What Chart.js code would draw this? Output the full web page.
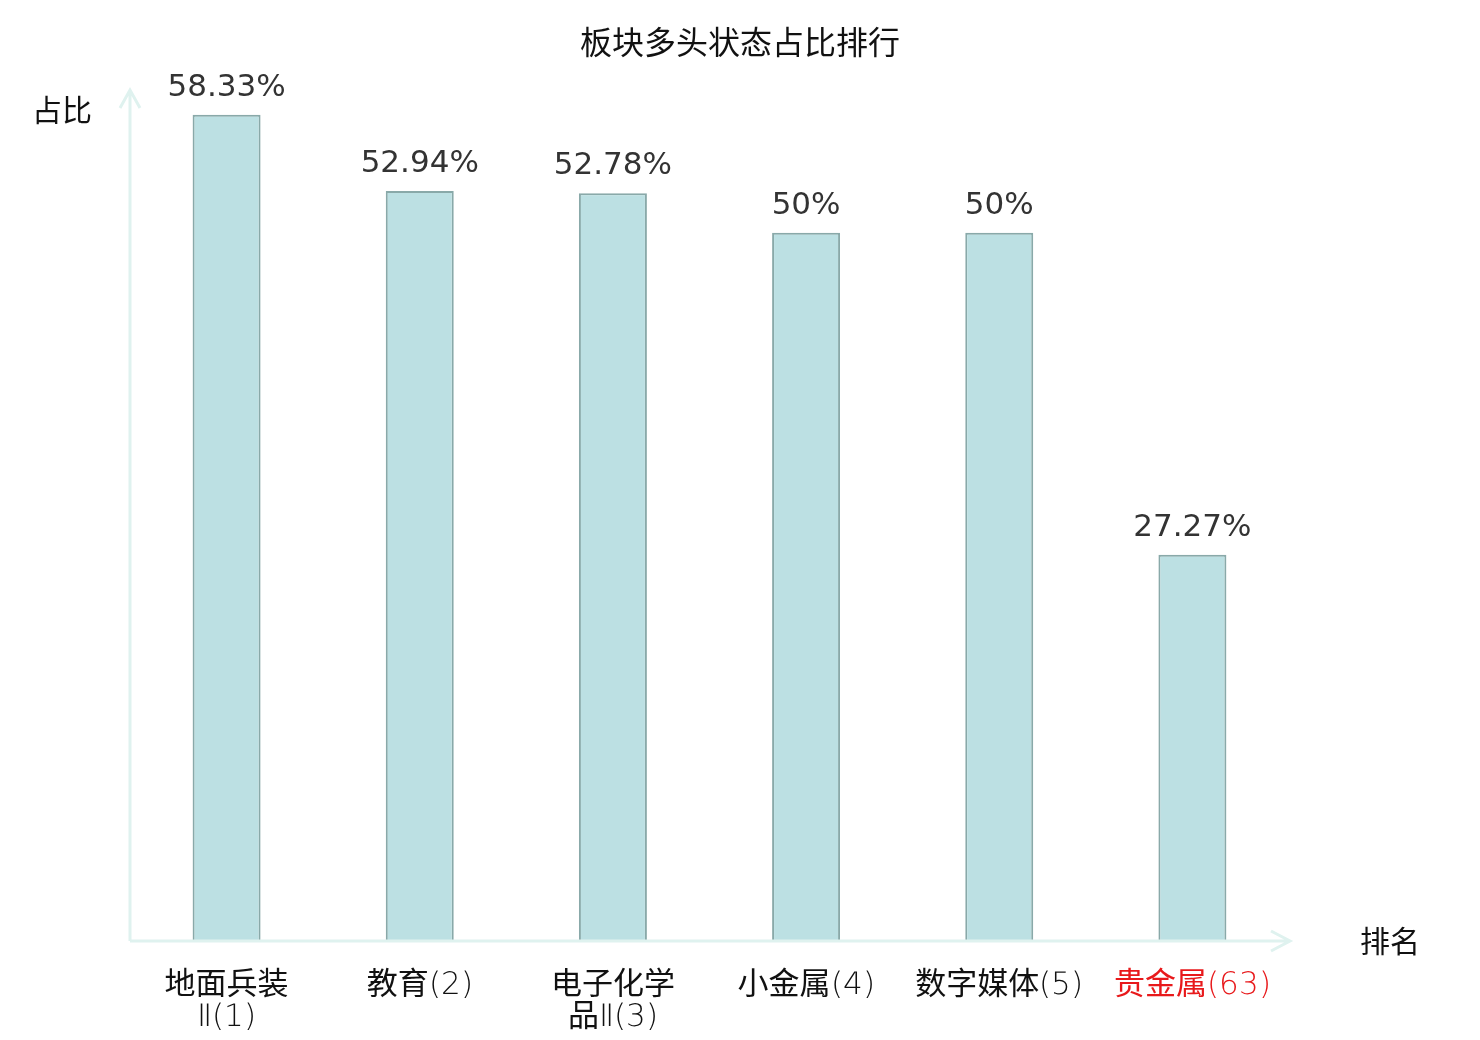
<!DOCTYPE html>
<html>
<head>
<meta charset="utf-8">
<script src="https://cdn.jsdelivr.net/npm/chart.js@4.4.0/dist/chart.umd.min.js"></script>
<style>
html,body{margin:0;padding:0;background:#fff;}
#wrap{width:1480px;height:1040px;position:relative;}
@font-face{
  font-family:"TickLatin";
  src: local("DejaVu Sans ExtraLight"), local("DejaVuSans-ExtraLight");
  unicode-range: U+0000-024F, U+2160-2188;
}
</style>
</head>
<body>
<div id="wrap"><canvas id="c" width="1480" height="1040"></canvas></div>
<script>
const categories = [
  ["地面兵装", "Ⅱ(1)"],
  ["教育(2)"],
  ["电子化学", "品Ⅱ(3)"],
  ["小金属(4)"],
  ["数字媒体(5)"],
  ["贵金属(63)"]
];
const values = [58.33, 52.94, 52.78, 50, 50, 27.27];
const labelColors = ["#111111", "#111111", "#111111", "#111111", "#111111", "#e8191b"];
const titleText = "板块多头状态占比排行";
const yAxisName = "占比";
const xAxisName = "排名";
const yMin = 0, yMax = 60;

const CJK = '"Noto Sans CJK SC", "DejaVu Sans", sans-serif';
const NUM = '"DejaVu Sans", sans-serif';
const TICKFONT = '"TickLatin", "Noto Sans CJK SC", sans-serif';

const decor = {
  id: 'decor',
  afterDatasetsDraw(chart) {
    const ctx = chart.ctx;
    const a = chart.chartArea;
    const axisColor = '#dff2ef';
    ctx.save();
    ctx.strokeStyle = axisColor;
    ctx.lineWidth = 3;
    ctx.lineCap = 'butt';
    const x0 = a.left, y0 = a.bottom;
    const yTop = a.top - 1;
    ctx.beginPath();
    ctx.moveTo(x0, y0); ctx.lineTo(x0, yTop);
    ctx.moveTo(x0 - 10, yTop + 18); ctx.lineTo(x0, yTop); ctx.lineTo(x0 + 10, yTop + 18);
    ctx.stroke();
    const xEnd = a.right + 1;
    ctx.beginPath();
    ctx.moveTo(x0, y0); ctx.lineTo(xEnd, y0);
    ctx.moveTo(xEnd - 19, y0 - 10); ctx.lineTo(xEnd, y0); ctx.lineTo(xEnd - 19, y0 + 10);
    ctx.stroke();

    const meta = chart.getDatasetMeta(0);
    ctx.fillStyle = '#333333';
    ctx.font = '31px ' + NUM;
    ctx.textAlign = 'center';
    ctx.textBaseline = 'alphabetic';
    meta.data.forEach((bar, i) => {
      ctx.fillText(values[i] + '%', bar.x, bar.y - 19);
    });

    ctx.fillStyle = '#111111';
    ctx.font = '30px ' + CJK;
    ctx.textAlign = 'left';
    ctx.textBaseline = 'middle';
    ctx.fillText(yAxisName, 32, 110);
    ctx.fillText(xAxisName, 1360, 941);

    ctx.font = '32px ' + CJK;
    ctx.textAlign = 'center';
    ctx.fillText(titleText, chart.width / 2, 42);
    ctx.restore();
  }
};

function build() {
  new Chart(document.getElementById('c'), {
    type: 'bar',
    data: {
      labels: categories,
      datasets: [{
        data: values,
        backgroundColor: '#bce0e3',
        borderColor: '#89a9a9',
        borderWidth: 2,
        borderSkipped: 'bottom',
        categoryPercentage: 1,
        barPercentage: 0.352
      }]
    },
    options: {
      responsive: false,
      animation: false,
      devicePixelRatio: 1,
      layout: { padding: { left: 130, right: 191, top: 91, bottom: 0 } },
      plugins: {
        legend: { display: false },
        tooltip: { enabled: false },
        title: { display: false }
      },
      scales: {
        x: {
          grid: { display: false, drawTicks: false },
          border: { display: false },
          ticks: {
            autoSkip: false,
            maxRotation: 0,
            minRotation: 0,
            padding: 29,
            color: (c) => labelColors[c.index],
            font: { family: TICKFONT, size: 31, weight: 'normal', lineHeight: 1.03 }
          },
          afterFit: (s) => { s.height = 99; }
        },
        y: {
          display: false,
          min: yMin,
          max: yMax
        }
      }
    },
    plugins: [decor]
  });
}

const loads = [
  document.fonts.load('31px "TickLatin"', 'Ⅱ(1)'),
  document.fonts.load('31px "Noto Sans CJK SC"', '地面'),
  document.fonts.load('31px "DejaVu Sans"', '5%')
];
Promise.all(loads).then(build, build);
</script>
</body>
</html>
